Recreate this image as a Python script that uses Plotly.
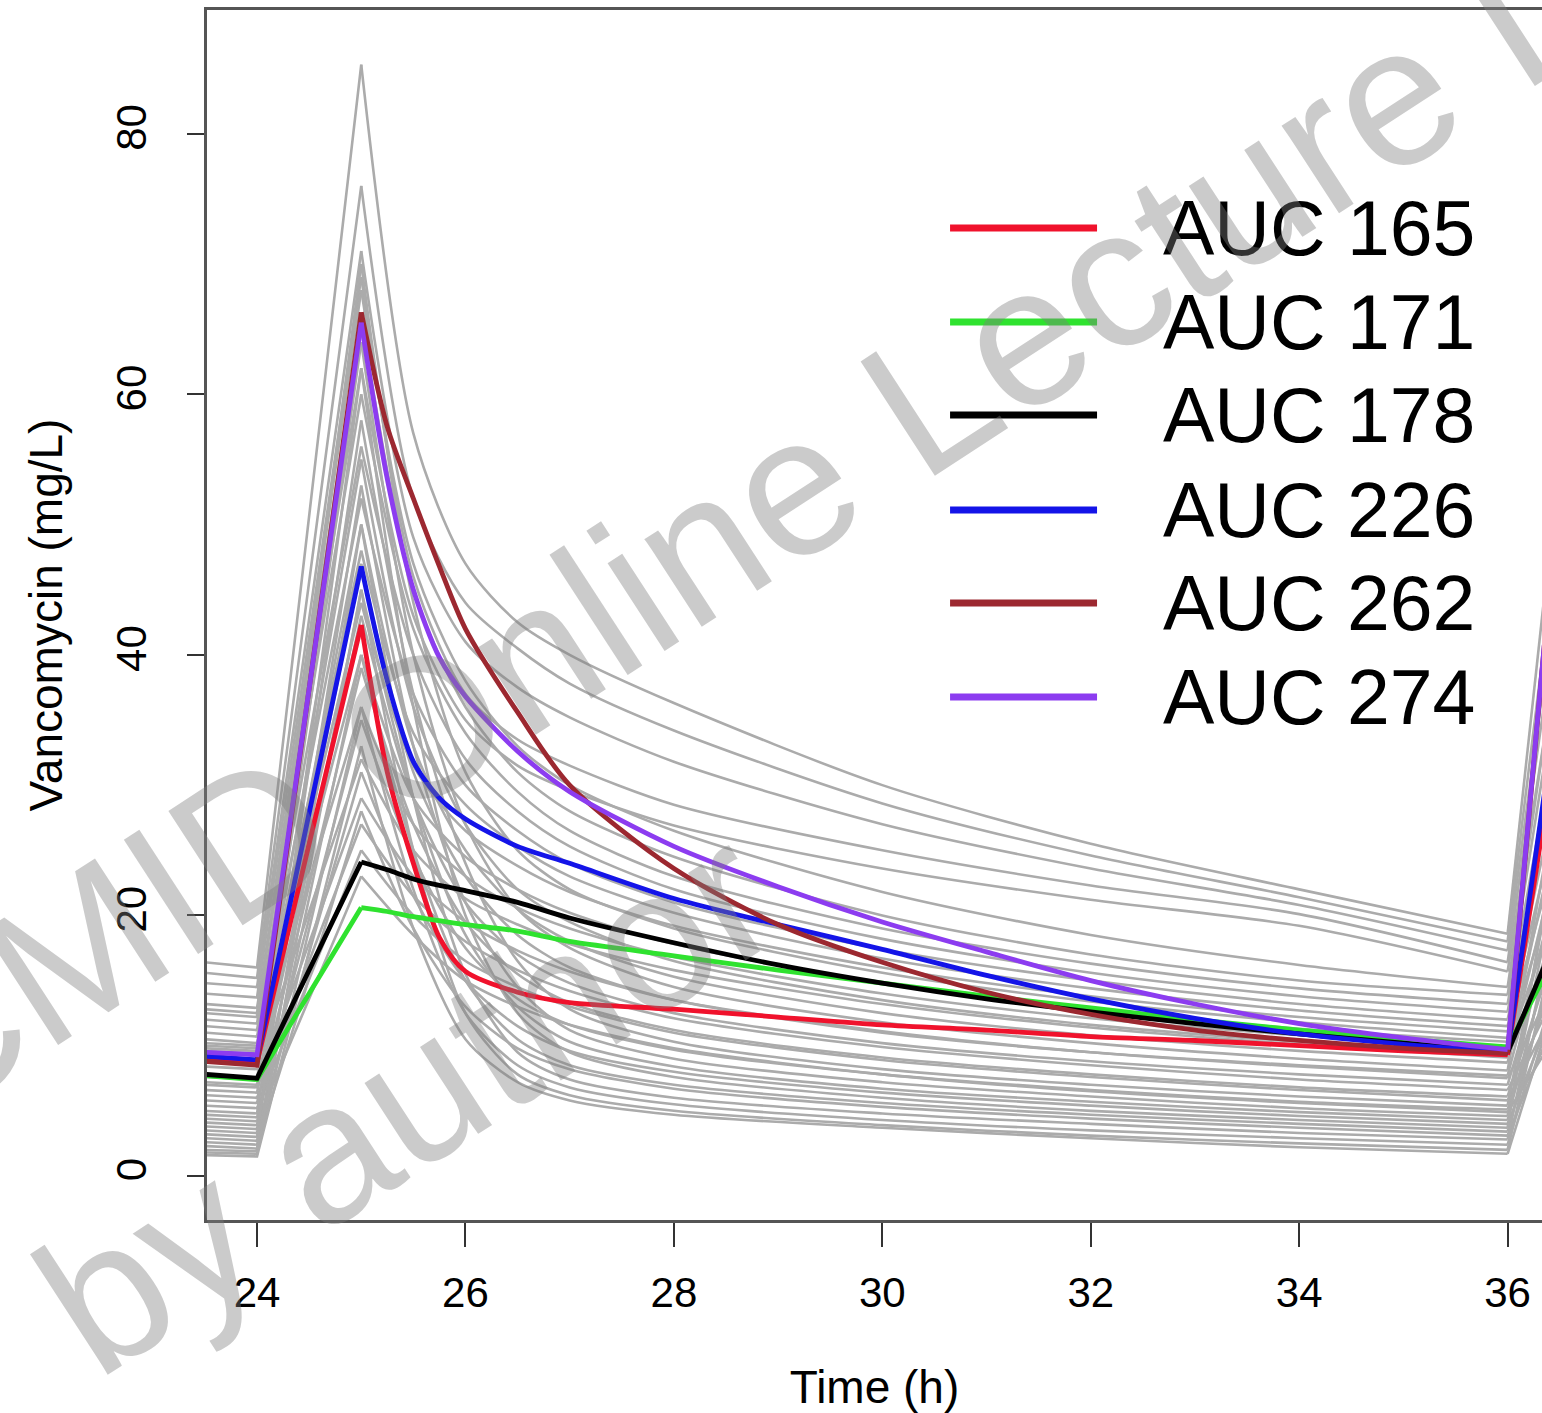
import plotly.graph_objects as go

# ---------------- data ----------------
T_LEAD = [23.5, 24.0, 25.0]          # before dose, trough, end of infusion
T_NEXT = [36.0, 36.4]                # next infusion
T_DECAY_HI = [25, 25.25, 25.5, 25.75, 26, 26.5, 27, 28, 29, 30, 31, 32, 33, 34, 35, 36]
T_DECAY = [25, 25.5, 26, 26.5, 27, 28, 30, 32, 34, 36]

AUC_LABELS = ["AUC 165", "AUC 171", "AUC 178", "AUC 226", "AUC 262", "AUC 274"]
AUC_COLORS = ["#f0122c", "#2fe22f", "#000000", "#1414e8", "#9c2830", "#8c3cf0"]

LEAD_165 = [9.0, 8.7, 42.3]
LEAD_171 = [7.7, 7.4, 20.6]
LEAD_178 = [7.8, 7.5, 24.1]
LEAD_226 = [9.2, 8.9, 46.8]
LEAD_262 = [8.8, 8.5, 66.3]
LEAD_274 = [9.5, 9.3, 65.5]

DECAY_165 = [42.3, 31.0, 24.0, 18.3, 15.7, 14.1, 13.3, 12.8, 12.2, 11.6, 11.2, 10.7, 10.4, 10.0, 9.6, 9.3]
DECAY_171 = [20.6, 20.3, 19.9, 19.6, 19.3, 18.8, 18.0, 16.9, 15.8, 14.8, 13.8, 12.9, 12.0, 11.2, 10.5, 9.9]
DECAY_178 = [24.1, 23.5, 22.8, 22.3, 21.9, 21.0, 19.8, 17.9, 16.2, 14.8, 13.6, 12.6, 11.7, 10.9, 10.2, 9.5]
DECAY_226 = [46.8, 38.0, 31.8, 29.0, 27.4, 25.3, 24.0, 21.3, 19.3, 17.4, 15.4, 13.6, 12.1, 10.9, 10.1, 9.5]
DECAY_262 = [66.3, 57.5, 52.0, 46.8, 42.0, 35.6, 30.0, 23.6, 19.3, 16.4, 14.1, 12.4, 11.2, 10.4, 9.8, 9.4]
DECAY_274 = [65.5, 53.5, 45.0, 39.8, 36.8, 32.6, 29.5, 25.3, 22.2, 19.5, 17.2, 15.0, 13.2, 11.7, 10.6, 9.7]

NEXT_165 = [9.3, 30.0]
NEXT_171 = [9.9, 16.0]
NEXT_178 = [9.5, 17.0]
NEXT_226 = [9.5, 32.0]
NEXT_262 = [9.4, 45.0]
NEXT_274 = [9.7, 45.0]

# gray simulated profiles:
# pre, t24, peak(25), 25.5, 26, 26.5, 27, 28, 30, 32, 34, 36, next
GRAY_PROFILES = [
    [16.4, 16.0, 85.3, 57.0, 47.0, 42.5, 40.0, 36.3, 30.0, 25.5, 22.0, 18.6, 48],
    [15.6, 15.2, 76.0, 52.0, 44.0, 40.5, 37.8, 34.2, 28.6, 24.6, 21.4, 18.0, 44],
    [14.8, 14.5, 71.0, 49.0, 41.0, 37.5, 35.2, 31.8, 27.0, 23.6, 20.8, 17.3, 41],
    [14.0, 13.7, 69.0, 46.0, 37.0, 33.5, 31.5, 28.5, 25.0, 22.3, 20.1, 16.4, 39],
    [13.2, 12.9, 62.0, 43.0, 35.0, 31.5, 29.6, 26.9, 23.6, 21.2, 19.2, 15.7, 36],
    [12.8, 12.5, 68.0, 47.0, 38.0, 33.0, 30.0, 26.5, 21.8, 18.5, 16.2, 14.5, 36],
    [12.5, 12.2, 66.0, 45.0, 36.0, 31.0, 28.0, 24.5, 20.0, 17.0, 15.0, 13.9, 34],
    [12.0, 11.7, 60.0, 42.0, 34.0, 29.5, 26.5, 23.0, 19.0, 16.3, 14.4, 13.2, 31],
    [11.5, 11.2, 56.0, 40.0, 32.0, 28.0, 25.3, 22.0, 18.2, 15.6, 13.8, 12.6, 29],
    [11.0, 10.7, 52.0, 37.0, 30.0, 26.5, 24.0, 21.0, 17.4, 15.0, 13.2, 12.0, 27],
    [10.5, 10.2, 48.0, 34.0, 28.5, 25.3, 23.0, 20.2, 16.7, 14.4, 12.7, 11.5, 25],
    [10.2, 10.0, 44.0, 31.5, 26.5, 23.8, 21.8, 19.2, 16.0, 13.8, 12.2, 11.1, 23],
    [10.0, 9.8, 40.0, 29.0, 24.5, 22.0, 20.2, 17.8, 14.8, 12.8, 11.3, 10.3, 21],
    [9.8, 9.6, 70.0, 44.0, 31.0, 25.0, 22.0, 19.0, 15.6, 13.4, 11.8, 10.6, 30],
    [9.6, 9.4, 36.0, 27.0, 23.0, 20.6, 19.0, 16.8, 14.0, 12.1, 10.8, 9.8, 19],
    [9.2, 9.0, 55.0, 36.0, 27.0, 22.0, 19.5, 16.5, 13.5, 11.6, 10.3, 9.3, 24],
    [8.8, 8.6, 32.0, 25.0, 21.3, 19.3, 17.8, 15.8, 13.2, 11.4, 10.1, 9.1, 17],
    [8.4, 8.2, 50.0, 33.0, 25.0, 20.5, 18.0, 15.3, 12.5, 10.8, 9.6, 8.7, 22],
    [7.6, 7.4, 64.0, 40.0, 27.0, 20.5, 17.5, 14.5, 11.8, 10.2, 9.0, 8.1, 26],
    [7.2, 7.0, 47.0, 31.0, 23.0, 18.5, 16.0, 13.5, 11.0, 9.5, 8.5, 7.7, 20],
    [7.0, 6.8, 29.0, 23.0, 19.5, 17.3, 15.7, 13.5, 11.1, 9.5, 8.4, 7.5, 14],
    [6.6, 6.4, 43.0, 29.0, 21.0, 17.0, 14.8, 12.5, 10.2, 8.8, 7.8, 7.0, 18],
    [6.2, 6.0, 27.0, 21.5, 18.0, 15.8, 14.2, 12.1, 9.9, 8.5, 7.4, 6.6, 13],
    [5.8, 5.6, 39.0, 27.0, 19.5, 15.5, 13.3, 11.2, 9.1, 7.8, 6.8, 6.1, 16],
    [5.4, 5.2, 25.0, 20.0, 16.5, 14.5, 13.0, 11.0, 8.9, 7.6, 6.6, 5.8, 12],
    [5.0, 4.8, 58.0, 37.0, 24.0, 16.5, 12.8, 10.3, 8.2, 7.0, 6.1, 5.4, 22],
    [4.7, 4.5, 35.0, 24.5, 17.5, 13.6, 11.6, 9.7, 7.8, 6.6, 5.7, 5.1, 14],
    [4.4, 4.2, 23.0, 18.5, 15.0, 13.0, 11.6, 9.8, 7.8, 6.5, 5.6, 4.9, 10],
    [4.1, 3.9, 53.0, 33.0, 21.0, 14.5, 11.2, 9.0, 7.2, 6.1, 5.2, 4.6, 20],
    [3.8, 3.6, 45.0, 29.0, 18.5, 13.0, 10.3, 8.4, 6.7, 5.7, 4.9, 4.3, 17],
    [3.5, 3.3, 31.0, 21.5, 15.0, 11.5, 9.6, 8.0, 6.4, 5.4, 4.6, 4.0, 12],
    [3.2, 3.0, 62.0, 36.0, 20.0, 12.5, 9.5, 7.6, 6.0, 5.0, 4.3, 3.7, 23],
    [2.9, 2.7, 40.0, 25.0, 15.0, 10.5, 8.5, 7.0, 5.6, 4.7, 4.0, 3.4, 15],
    [2.6, 2.4, 28.0, 19.0, 13.0, 9.8, 8.2, 6.7, 5.3, 4.4, 3.7, 3.1, 11],
    [2.3, 2.1, 50.0, 29.0, 15.5, 9.5, 7.4, 6.0, 4.8, 4.0, 3.3, 2.8, 18],
    [2.0, 1.9, 36.0, 22.0, 12.5, 8.5, 6.8, 5.5, 4.3, 3.5, 2.9, 2.4, 13],
    [1.8, 1.7, 45.0, 25.0, 12.5, 7.8, 6.2, 5.0, 3.9, 3.1, 2.5, 2.0, 16],
    [1.6, 1.5, 33.0, 19.0, 10.5, 7.2, 5.8, 4.7, 3.7, 2.9, 2.2, 1.7, 12],
]

AXIS_X_TICKS = [24, 26, 28, 30, 32, 34, 36]
AXIS_Y_TICKS = [0, 20, 40, 60, 80]

# ---------------- figure ----------------
FONT = "Liberation Sans, Arial, Helvetica, sans-serif"
GRAY = "#ababab"

fig = go.Figure()

# gray: straight segments (lead-in + next infusion) in one trace
gx, gy = [], []
dx, dy = [], []
for row in GRAY_PROFILES:
    gx += T_LEAD + [None] + T_NEXT + [None]
    gy += row[0:3] + [None] + [row[11], row[12]] + [None]
    dx += T_DECAY + [None]
    dy += row[2:12] + [None]

fig.add_trace(go.Scatter(x=gx, y=gy, mode="lines", line=dict(color=GRAY, width=2.6),
                         connectgaps=False, showlegend=False, hoverinfo="skip"))
fig.add_trace(go.Scatter(x=dx, y=dy, mode="lines",
                         line=dict(color=GRAY, width=2.6, shape="spline", smoothing=0.8),
                         connectgaps=False, showlegend=False, hoverinfo="skip"))

LEADS = [LEAD_165, LEAD_171, LEAD_178, LEAD_226, LEAD_262, LEAD_274]
DECAYS = [DECAY_165, DECAY_171, DECAY_178, DECAY_226, DECAY_262, DECAY_274]
NEXTS = [NEXT_165, NEXT_171, NEXT_178, NEXT_226, NEXT_262, NEXT_274]

for lab, col, lead, dec, nxt in zip(AUC_LABELS, AUC_COLORS, LEADS, DECAYS, NEXTS):
    fig.add_trace(go.Scatter(x=T_LEAD + [None] + T_NEXT, y=lead + [None] + nxt, mode="lines",
                             line=dict(color=col, width=4.8), connectgaps=False,
                             showlegend=False, name=lab))
    fig.add_trace(go.Scatter(x=T_DECAY_HI, y=dec, mode="lines",
                             line=dict(color=col, width=4.8, shape="spline", smoothing=0.8),
                             showlegend=False, name=lab))

# custom legend (long line samples like the original)
LEG_Y = [0.8198, 0.7421, 0.6653, 0.5868, 0.5099, 0.4322]
shapes = []
annotations = []
for lab, col, yy in zip(AUC_LABELS, AUC_COLORS, LEG_Y):
    shapes.append(dict(type="line", xref="paper", yref="paper", x0=0.5566, x1=0.6667,
                       y0=yy, y1=yy, line=dict(color=col, width=7)))
    annotations.append(dict(xref="paper", yref="paper", x=0.7146, y=yy, text=lab,
                            showarrow=False, xanchor="left", yanchor="middle",
                            font=dict(family=FONT, size=77, color="#000000")))

# watermark
WM_COLOR = "rgba(125,125,125,0.40)"
annotations.append(dict(xref="paper", yref="paper", x=0.3935, y=0.5736,
                        text="CMID Online Lecture L", showarrow=False, textangle=-33,
                        xanchor="center", yanchor="middle",
                        font=dict(family=FONT, size=198, color=WM_COLOR)))
annotations.append(dict(xref="paper", yref="paper", x=0.1488, y=0.0997,
                        text="by author", showarrow=False, textangle=-33,
                        xanchor="center", yanchor="middle",
                        font=dict(family=FONT, size=198, color=WM_COLOR)))

fig.update_layout(
    width=1542, height=1413,
    margin=dict(l=207, r=0, t=10, b=193, pad=0),
    paper_bgcolor="white", plot_bgcolor="white",
    font=dict(family=FONT, color="#000000"),
    shapes=shapes, annotations=annotations,
    showlegend=False,
)
fig.update_xaxes(
    range=[23.52, 36.33], tickvals=AXIS_X_TICKS, ticks="outside", ticklen=24, tickwidth=2,
    tickcolor="#333333", showline=True, linewidth=3, linecolor="#555555", mirror=True,
    showgrid=False, zeroline=False, tickfont=dict(size=42, family=FONT),
    ticklabelstandoff=10,
    title=dict(text="Time (h)", font=dict(size=46, family=FONT), standoff=58),
)
fig.update_yaxes(
    range=[-3.38, 89.5], tickvals=AXIS_Y_TICKS, ticks="outside", ticklen=17, tickwidth=2,
    tickcolor="#333333", showline=True, linewidth=3, linecolor="#555555", mirror=False,
    showgrid=False, zeroline=False, tickangle=-90, tickfont=dict(size=42, family=FONT),
    ticklabelstandoff=24,
    title=dict(text="Vancomycin (mg/L)", font=dict(size=46, family=FONT), standoff=32),
)

fig.write_html("out.html", config={"displayModeBar": False},
               post_script="document.body.style.margin='0';document.body.style.overflow='hidden';")
